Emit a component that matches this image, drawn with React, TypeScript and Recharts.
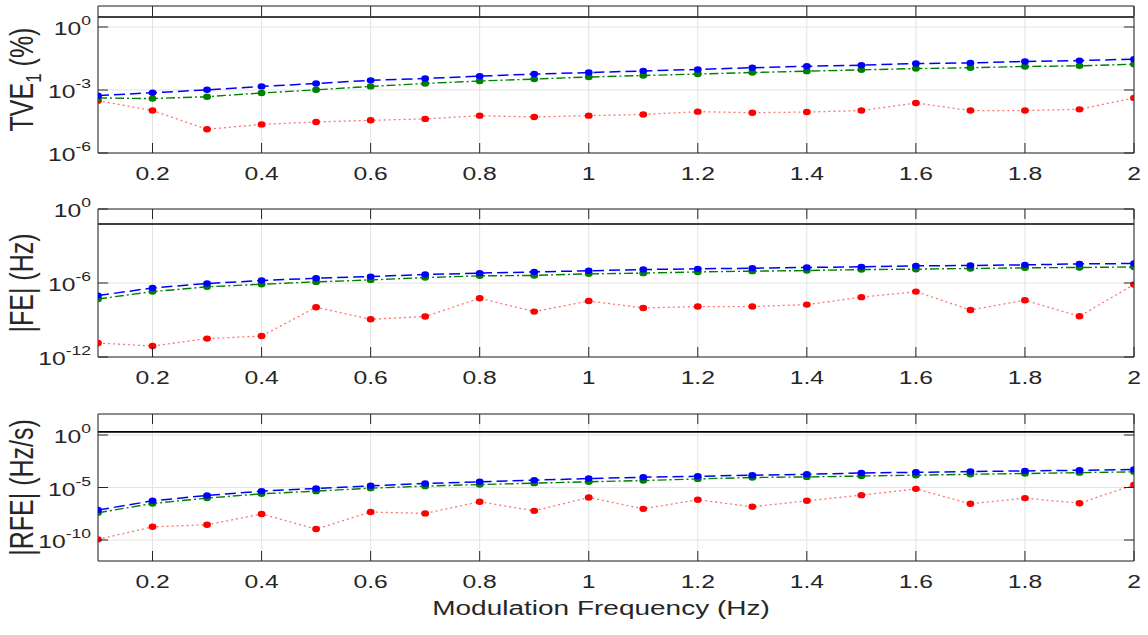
import { LineChart, Line, XAxis, YAxis, CartesianGrid, ReferenceLine } from "recharts";

const freq = [0.1, 0.2, 0.3, 0.4, 0.5, 0.6, 0.7, 0.8, 0.9, 1.0, 1.1, 1.2, 1.3, 1.4, 1.5, 1.6, 1.7, 1.8, 1.9, 2.0];
const xTicks = [0.2, 0.4, 0.6, 0.8, 1, 1.2, 1.4, 1.6, 1.8, 2];

// TVE (%)
const tveBlue = [5.4e-4, 7.4e-4, 1.02e-3, 1.48e-3, 2.04e-3, 2.88e-3, 3.55e-3, 4.57e-3, 5.75e-3, 6.76e-3, 8.1e-3, 9.5e-3, 1.15e-2, 1.35e-2, 1.51e-2, 1.82e-2, 1.95e-2, 2.29e-2, 2.51e-2, 2.95e-2];
const tveGreen = [4.2e-4, 3.9e-4, 4.8e-4, 7.2e-4, 1.02e-3, 1.48e-3, 2.04e-3, 2.69e-3, 3.31e-3, 4.17e-3, 4.9e-3, 5.75e-3, 6.76e-3, 7.9e-3, 9.1e-3, 1.05e-2, 1.15e-2, 1.32e-2, 1.41e-2, 1.7e-2];
const tveRed = [3.1e-4, 1.05e-4, 1.35e-5, 2.3e-5, 3.0e-5, 3.6e-5, 4.2e-5, 6.0e-5, 5.2e-5, 6.0e-5, 6.8e-5, 9.3e-5, 8.3e-5, 8.9e-5, 1.05e-4, 2.4e-4, 1.05e-4, 1.05e-4, 1.2e-4, 4.2e-4];
const tveLimit = 3;
const tveTicks = [1e-6, 1e-3, 1];

// |FE| (Hz)
const feBlue = [9.5e-8, 4.0e-7, 9.1e-7, 1.58e-6, 2.45e-6, 3.3e-6, 4.9e-6, 6.3e-6, 7.9e-6, 9.8e-6, 1.23e-5, 1.41e-5, 1.58e-5, 1.82e-5, 2.04e-5, 2.45e-5, 2.63e-5, 2.95e-5, 3.55e-5, 3.8e-5];
const feGreen = [5.1e-8, 2.0e-7, 4.9e-7, 7.9e-7, 1.23e-6, 1.78e-6, 2.75e-6, 3.8e-6, 4.1e-6, 5.5e-6, 6.3e-6, 7.9e-6, 9.1e-6, 1.02e-5, 1.23e-5, 1.32e-5, 1.51e-5, 1.7e-5, 1.82e-5, 2.0e-5];
const feRed = [1.35e-11, 7.8e-12, 3.1e-11, 5.0e-11, 1.07e-8, 1.15e-9, 1.9e-9, 5.8e-8, 4.8e-9, 3.5e-8, 9.5e-9, 1.23e-8, 1.23e-8, 1.78e-8, 7.1e-8, 2.0e-7, 6.5e-9, 4.0e-8, 2.0e-9, 7.6e-7];
const feLimit = 0.06;
const feTicks = [1e-12, 1e-6, 1];

// |RFE| (Hz/s)
const rfeBlue = [7.1e-8, 5.4e-7, 1.74e-6, 4.5e-6, 7.9e-6, 1.45e-5, 2.4e-5, 3.5e-5, 5.0e-5, 7.1e-5, 9.5e-5, 1.17e-4, 1.48e-4, 1.82e-4, 2.4e-4, 2.8e-4, 3.3e-4, 3.8e-4, 4.4e-4, 5.1e-4];
const rfeGreen = [3.9e-8, 3.0e-7, 9.8e-7, 2.5e-6, 4.5e-6, 8.7e-6, 1.35e-5, 1.9e-5, 2.6e-5, 3.5e-5, 4.6e-5, 6.6e-5, 8.9e-5, 1.02e-4, 1.23e-4, 1.48e-4, 1.82e-4, 2.14e-4, 2.6e-4, 3.1e-4];
const rfeRed = [1.15e-10, 1.8e-9, 2.8e-9, 3.0e-8, 1.1e-9, 4.6e-8, 3.4e-8, 4.4e-7, 6.0e-8, 1.12e-6, 9.3e-8, 6.8e-7, 1.45e-7, 5.4e-7, 1.86e-6, 7.4e-6, 2.8e-7, 9.8e-7, 3.2e-7, 1.78e-5];
const rfeLimit = 2;
const rfeTicks = [1e-10, 1e-5, 1];

const AX = "#262626";
const FONT = "'Liberation Sans', Arial, Helvetica, sans-serif";
const TICK = 10;
const SX = 1.3; // the figure is stretched sideways, so is its text

function BottomTick(props: any) {
  const { x, y, payload } = props;
  return (
    <g>
      <line x1={x} y1={y} x2={x} y2={y - TICK} stroke={AX} strokeWidth={1} />
      <text transform={`translate(${x} ${y + 27}) scale(${SX} 1)`} textAnchor="middle" fill={AX}
        fontSize={19} fontFamily={FONT}>
        {String(payload.value)}
      </text>
    </g>
  );
}

function TopTick(props: any) {
  const { x, y } = props;
  return <line x1={x} y1={y} x2={x} y2={y + TICK} stroke={AX} strokeWidth={1} />;
}

function LeftTick(props: any) {
  const { x, y, payload } = props;
  const e = Math.round(Math.log10(payload.value));
  return (
    <g>
      <line x1={x} y1={y} x2={x + TICK} y2={y} stroke={AX} strokeWidth={1} />
      <text transform={`translate(${x - 7} ${y + 8}) scale(${SX} 1)`} textAnchor="end" fill={AX}
        fontSize={19} fontFamily={FONT}>
        10<tspan dy={-10} fontSize={13.5}>{e}</tspan>
      </text>
    </g>
  );
}

function RightTick(props: any) {
  const { x, y } = props;
  return <line x1={x} y1={y} x2={x - TICK} y2={y} stroke={AX} strokeWidth={1} />;
}

function marker(color: string) {
  return (p: any) => {
    if (p.cx == null || p.cy == null) return <g key={p.index} />;
    return <ellipse key={p.index} cx={p.cx} cy={p.cy} rx={3.9} ry={3.2} fill={color} />;
  };
}

interface PanelProps {
  top: number;
  height: number;
  domain: [number, number];
  ticks: number[];
  limit: number;
  blue: number[];
  green: number[];
  red: number[];
  ylabel: React.ReactNode;
}

function Panel({ top, height, domain, ticks, limit, blue, green, red, ylabel }: PanelProps) {
  const data = freq.map((f, i) => ({ f, blue: blue[i], green: green[i], red: red[i] }));
  return (
    <div style={{ position: "absolute", left: 0, top: top - 15 }}>
      <LineChart width={1148} height={height + 15 + 36} data={data} margin={{ top: 14, right: 13, bottom: 0, left: 0 }}>
        <CartesianGrid stroke="#e3e3e3" strokeWidth={1} />
        <XAxis
          dataKey="f" type="number" domain={[0.1, 2]} ticks={xTicks} allowDataOverflow
          height={36} tickSize={0} tickMargin={0} tickLine={false}
          axisLine={{ stroke: AX }} tick={<BottomTick />} interval={0}
        />
        <XAxis
          xAxisId="top" orientation="top" dataKey="f" type="number" domain={[0.1, 2]} ticks={xTicks}
          allowDataOverflow height={1} tickSize={0} tickMargin={0} tickLine={false}
          axisLine={{ stroke: AX }} tick={<TopTick />} interval={0}
        />
        <YAxis
          scale="log" type="number" domain={domain} ticks={ticks} allowDataOverflow width={98}
          tickSize={0} tickMargin={0} tickLine={false} axisLine={{ stroke: AX }}
          tick={<LeftTick />} interval={0}
          label={(p: any) => {
            const vb = p.viewBox;
            const cy = vb.y + vb.height / 2;
            return (
              <text transform={`translate(33 ${cy}) scale(${SX} 1) rotate(-90)`} textAnchor="middle" fill={AX}
                fontSize={25} fontFamily={FONT}>
                {ylabel}
              </text>
            );
          }}
        />
        <YAxis
          yAxisId="right" orientation="right" scale="log" type="number" domain={domain} ticks={ticks}
          allowDataOverflow width={1} tickSize={0} tickMargin={0} tickLine={false}
          axisLine={{ stroke: AX }} tick={<RightTick />} interval={0}
        />
        <ReferenceLine y={limit} stroke="#000000" strokeWidth={1.6} ifOverflow="hidden" />
        <Line
          dataKey="red" stroke="#ff0000" strokeOpacity={0.55} strokeWidth={1.3} strokeDasharray="2 3"
          dot={marker("#ff0000")} isAnimationActive={false}
        />
        <Line
          dataKey="green" stroke="#008000" strokeWidth={1.4} strokeDasharray="9 3 2 3"
          dot={marker("#008000")} isAnimationActive={false}
        />
        <Line
          dataKey="blue" stroke="#0000ff" strokeWidth={1.5} strokeDasharray="11 5"
          dot={marker("#0000ff")} isAnimationActive={false}
        />
      </LineChart>
    </div>
  );
}

export default function App() {
  return (
    <div style={{ position: "absolute", left: 0, top: 0, width: 1148, height: 635, background: "#fff", fontFamily: FONT }}>
      <Panel
        top={6} height={147} domain={[1e-6, 10]} ticks={tveTicks} limit={tveLimit}
        blue={tveBlue} green={tveGreen} red={tveRed}
        ylabel={<>TVE<tspan dy={6} fontSize={17}>1</tspan><tspan dy={-6}> (%)</tspan></>}
      />
      <Panel
        top={209} height={148} domain={[1e-12, 1]} ticks={feTicks} limit={feLimit}
        blue={feBlue} green={feGreen} red={feRed}
        ylabel="|FE| (Hz)"
      />
      <Panel
        top={414} height={147} domain={[1e-12, 100]} ticks={rfeTicks} limit={rfeLimit}
        blue={rfeBlue} green={rfeGreen} red={rfeRed}
        ylabel="|RFE| (Hz/s)"
      />
      <svg width={1148} height={40} style={{ position: "absolute", left: 0, top: 595 }}>
        <text transform={`translate(601 20) scale(1.4 1)`} textAnchor="middle" fill={AX} fontSize={20} fontFamily={FONT}>
          Modulation Frequency (Hz)
        </text>
      </svg>
    </div>
  );
}
